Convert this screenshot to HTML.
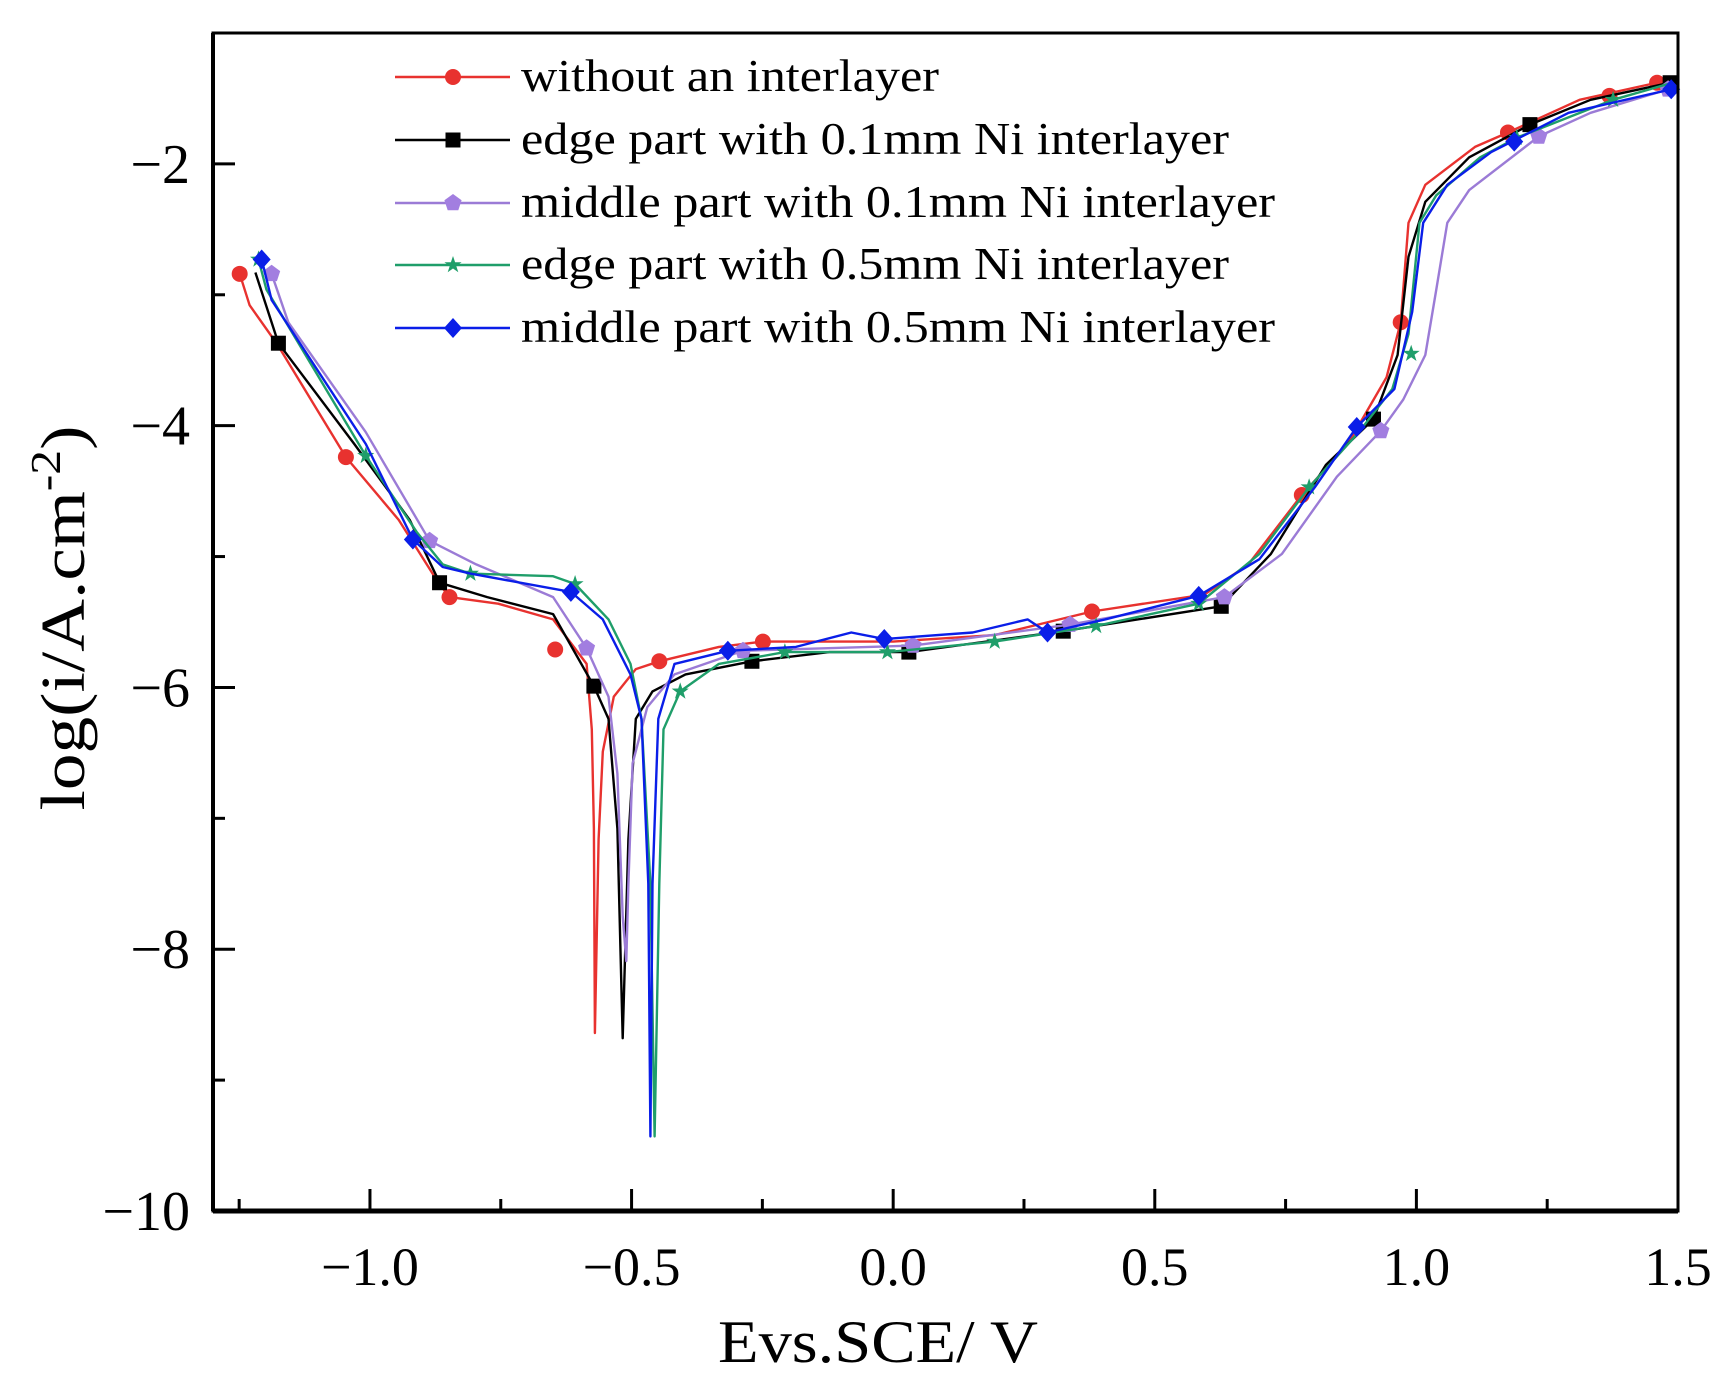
<!DOCTYPE html>
<html><head><meta charset="utf-8"><style>
html,body{margin:0;padding:0;background:#fff;}
svg{display:block;font-family:"Liberation Serif",serif;}
</style></head><body>
<svg id="chart" width="1731" height="1390" viewBox="0 0 1731 1390"></svg>
<script>
// ---- data ----
const xTicks = [-1.0, -0.5, 0.0, 0.5, 1.0, 1.5];
const xTickLabels = ["\u22121.0", "\u22120.5", "0.0", "0.5", "1.0", "1.5"];
const xMinorTicks = [-1.25, -0.75, -0.25, 0.25, 0.75, 1.25];
const yTicks = [-2, -4, -6, -8, -10];
const yTickLabels = ["\u22122", "\u22124", "\u22126", "\u22128", "\u221210"];
const yMinorTicks = [-3, -5, -7, -9];
const seriesNames = ["without an interlayer","edge part with 0.1mm Ni interlayer","middle part with 0.1mm Ni interlayer","edge part with 0.5mm Ni interlayer","middle part with 0.5mm Ni interlayer"];

const redE = [-1.249,-1.230,-1.177,-1.046,-0.945,-0.871,-0.848,-0.755,-0.650,-0.586,-0.576,-0.572,-0.570,-0.563,-0.555,-0.534,-0.492,-0.447,-0.333,-0.249,0,0.194,0.380,0.595,0.679,0.781,0.869,0.943,0.970,0.985,1.017,1.112,1.175,1.312,1.460];
const redI = [-2.84,-3.08,-3.38,-4.24,-4.72,-5.19,-5.31,-5.36,-5.48,-5.82,-6.32,-7.08,-8.64,-7.16,-6.49,-6.07,-5.86,-5.80,-5.69,-5.65,-5.65,-5.60,-5.42,-5.29,-5.06,-4.53,-4.14,-3.63,-3.21,-2.45,-2.16,-1.87,-1.76,-1.51,-1.38];
const blackE = [-1.219,-1.175,-1.030,-0.924,-0.867,-0.776,-0.650,-0.572,-0.544,-0.527,-0.517,-0.506,-0.492,-0.460,-0.397,-0.270,-0.122,0.030,0.325,0.627,0.722,0.827,0.918,0.964,0.985,1.017,1.101,1.217,1.333,1.485];
const blackI = [-2.83,-3.37,-4.14,-4.72,-5.20,-5.31,-5.44,-5.99,-6.24,-7.08,-8.68,-7.16,-6.24,-6.03,-5.90,-5.80,-5.73,-5.73,-5.57,-5.38,-4.98,-4.30,-3.95,-3.46,-2.71,-2.29,-1.95,-1.70,-1.51,-1.38];
const purpleE = [-1.188,-1.156,-1.008,-0.886,-0.797,-0.650,-0.586,-0.544,-0.527,-0.517,-0.510,-0.506,-0.498,-0.470,-0.418,-0.287,0.038,0.338,0.633,0.743,0.848,0.932,0.975,1.017,1.038,1.059,1.101,1.234,1.333,1.481];
const purpleI = [-2.84,-3.21,-4.05,-4.88,-5.06,-5.31,-5.70,-6.07,-6.66,-7.75,-8.09,-7.50,-6.58,-6.15,-5.90,-5.72,-5.68,-5.52,-5.31,-4.98,-4.39,-4.04,-3.80,-3.46,-2.96,-2.45,-2.20,-1.79,-1.61,-1.43];
const greenE = [-1.213,-1.198,-1.008,-0.911,-0.861,-0.808,-0.650,-0.608,-0.544,-0.502,-0.481,-0.464,-0.456,-0.447,-0.439,-0.407,-0.333,-0.207,-0.011,0.194,0.388,0.584,0.700,0.795,0.890,0.954,0.985,1.006,1.038,1.122,1.192,1.376,1.481];
const greenI = [-2.73,-2.96,-4.23,-4.81,-5.06,-5.13,-5.15,-5.21,-5.48,-5.82,-6.24,-7.50,-9.43,-7.50,-6.32,-6.03,-5.82,-5.73,-5.73,-5.65,-5.53,-5.36,-4.98,-4.47,-4.05,-3.72,-3.30,-2.45,-2.24,-1.95,-1.80,-1.51,-1.39];
const blueE = [-1.207,-1.188,-1.008,-0.918,-0.861,-0.808,-0.616,-0.555,-0.502,-0.481,-0.468,-0.464,-0.460,-0.449,-0.418,-0.316,-0.186,-0.080,-0.017,0.152,0.257,0.295,0.405,0.584,0.700,0.806,0.886,0.958,0.992,1.013,1.059,1.143,1.291,1.487];
const blueI = [-2.73,-3.04,-4.14,-4.87,-5.08,-5.13,-5.27,-5.48,-5.90,-6.24,-7.50,-9.43,-7.50,-6.24,-5.82,-5.72,-5.69,-5.58,-5.63,-5.58,-5.48,-5.58,-5.48,-5.30,-5.02,-4.47,-4.01,-3.72,-3.13,-2.45,-2.16,-1.91,-1.61,-1.43];

const redMkE = [-1.249,-1.046,-0.848,-0.646,-0.447,-0.249,0.380,0.781,0.970,1.175,1.369,1.460];
const redMkI = [-2.84,-4.24,-5.31,-5.71,-5.80,-5.65,-5.42,-4.53,-3.21,-1.76,-1.48,-1.38];
const blackMkE = [-1.175,-0.867,-0.572,-0.270,0.030,0.325,0.627,0.918,1.217,1.485];
const blackMkI = [-3.37,-5.20,-5.99,-5.80,-5.73,-5.57,-5.38,-3.95,-1.70,-1.38];
const purpleMkE = [-1.188,-0.886,-0.586,-0.287,0.038,0.338,0.633,0.932,1.234,1.481];
const purpleMkI = [-2.84,-4.88,-5.70,-5.72,-5.68,-5.52,-5.31,-4.04,-1.79,-1.43];
const greenMkE = [-1.213,-1.008,-0.808,-0.608,-0.407,-0.207,-0.011,0.194,0.388,0.584,0.795,0.990,1.192,1.376];
const greenMkI = [-2.73,-4.23,-5.13,-5.21,-6.03,-5.73,-5.73,-5.65,-5.53,-5.36,-4.47,-3.45,-1.80,-1.51];
const blueMkE = [-1.207,-0.918,-0.616,-0.316,-0.017,0.295,0.584,0.886,1.187,1.487];
const blueMkI = [-2.73,-4.87,-5.27,-5.72,-5.63,-5.58,-5.30,-4.01,-1.83,-1.43];

// ---- layout ----
const NS = "http://www.w3.org/2000/svg";
const svg = document.getElementById('chart');
const L = 213, R = 1678, T = 33, B = 1211;
const xMin = -1.3, xMax = 1.5, yMin = -10, yMax = -1.0;
function sx(v){ return L + (v - xMin) / (xMax - xMin) * (R - L); }
function sy(v){ return B - (v - yMin) / (yMax - yMin) * (B - T); }
function mk(tag, attrs, parent){
  const e = document.createElementNS(NS, tag);
  for (const k in attrs) e.setAttribute(k, attrs[k]);
  (parent || svg).appendChild(e);
  return e;
}

const series = [
  {name:'red', color:'#e8322f', mcolor:'#e8322f', E:redE, I:redI, mE:redMkE, mI:redMkI, shape:'circle'},
  {name:'black', color:'#000', mcolor:'#000', E:blackE, I:blackI, mE:blackMkE, mI:blackMkI, shape:'square'},
  {name:'purple', color:'#9b7bd6', mcolor:'#a27ee0', E:purpleE, I:purpleI, mE:purpleMkE, mI:purpleMkI, shape:'pentagon'},
  {name:'green', color:'#1f9e6a', mcolor:'#1f9e6a', E:greenE, I:greenI, mE:greenMkE, mI:greenMkI, shape:'star'},
  {name:'blue', color:'#0a1ee8', mcolor:'#0a1ee8', E:blueE, I:blueI, mE:blueMkE, mI:blueMkI, shape:'diamond'}
];

function marker(shape, cx, cy, color, g){
  let el;
  if (shape==='circle') el = mk('circle',{cx:cx,cy:cy,r:8,fill:color},g);
  else if (shape==='square') el = mk('rect',{x:cx-7.5,y:cy-7.5,width:15,height:15,fill:color},g);
  else if (shape==='diamond') el = mk('polygon',{points:`${cx},${cy-10} ${cx+9},${cy} ${cx},${cy+10} ${cx-9},${cy}`,fill:color},g);
  else if (shape==='pentagon'){
    let p=[]; for(let k=0;k<5;k++){const a=-Math.PI/2+k*2*Math.PI/5;p.push((cx+9*Math.cos(a)).toFixed(1)+','+(cy+9*Math.sin(a)).toFixed(1));}
    el = mk('polygon',{points:p.join(' '),fill:color},g);
  } else {
    let p=[]; for(let k=0;k<10;k++){const a=-Math.PI/2+k*Math.PI/5;const r=k%2?3.5:9;p.push((cx+r*Math.cos(a)).toFixed(1)+','+(cy+r*Math.sin(a)).toFixed(1));}
    el = mk('polygon',{points:p.join(' '),fill:color},g);
  }
  return el;
}

series.forEach(s=>{
  const g = mk('g',{});
  
  
  const d = s.E.map((e,i)=>(i?'L':'M')+sx(e).toFixed(1)+','+sy(s.I[i]).toFixed(1)).join(' ');
  const path = mk('path',{d:d,fill:'none',stroke:s.color,'stroke-width':2.4,'stroke-linejoin':'round'},g);
  
  
  s.mE.forEach((e,i)=>{
    const m = marker(s.shape, sx(e), sy(s.mI[i]), s.mcolor, g);
    
    
  });
});

const frame = mk('rect',{x:L,y:T,width:R-L,height:B-T,fill:'none',stroke:'#000','stroke-width':3});


const xax = mk('line',{x1:L,y1:B,x2:R,y2:B,stroke:'#000','stroke-width':5});


const yax = mk('line',{x1:L,y1:T,x2:L,y2:B,stroke:'#000','stroke-width':4});



xTicks.forEach((v,i)=>{
  const t = mk('line',{x1:sx(v),y1:B,x2:sx(v),y2:B-22,stroke:'#000','stroke-width':3});
  
  
  const lb = mk('text',{x:sx(v),y:1285,'text-anchor':'middle','font-size':54,fill:'#000'});
  lb.textContent = xTickLabels[i];
  
  
});
xMinorTicks.forEach(v=>{
  const t = mk('line',{x1:sx(v),y1:B,x2:sx(v),y2:B-12,stroke:'#000','stroke-width':3});
  
  
});
yTicks.forEach((v,i)=>{
  const t = mk('line',{x1:L,y1:sy(v),x2:L+22,y2:sy(v),stroke:'#000','stroke-width':3});
  
  
  const lb = mk('text',{x:190,y:sy(v)+19,'text-anchor':'end','font-size':56,fill:'#000'});
  lb.textContent = yTickLabels[i];
  
  
});
yMinorTicks.forEach(v=>{
  const t = mk('line',{x1:L,y1:sy(v),x2:L+12,y2:sy(v),stroke:'#000','stroke-width':3});
  
  
});

const xt = mk('text',{x:878,y:1362,'text-anchor':'middle','font-size':60,fill:'#000',textLength:320,lengthAdjust:'spacingAndGlyphs'});
xt.textContent = 'Evs.SCE/ V';


const yt = mk('text',{x:0,y:0,'text-anchor':'middle','font-size':62,fill:'#000',transform:'translate(84,618) rotate(-90)',textLength:385,lengthAdjust:'spacingAndGlyphs'});
yt.innerHTML = 'log(i/A.cm<tspan dy="-24" font-size="42">-2</tspan><tspan dy="24">)</tspan>';



const legY = [77,140,203,265,328];
const legW = [418, 708, 754, 708, 754];
series.forEach((s,i)=>{
  const g = mk('g',{});
  
  
  mk('line',{x1:395,y1:legY[i],x2:510,y2:legY[i],stroke:s.color,'stroke-width':2.4},g);
  marker(s.shape,453,legY[i],s.mcolor,g);
  const tx = mk('text',{x:521,y:legY[i]+14,'font-size':46,fill:'#000',textLength:legW[i],lengthAdjust:'spacingAndGlyphs'},g);
  tx.textContent = seriesNames[i];
});
</script>
</body></html>
